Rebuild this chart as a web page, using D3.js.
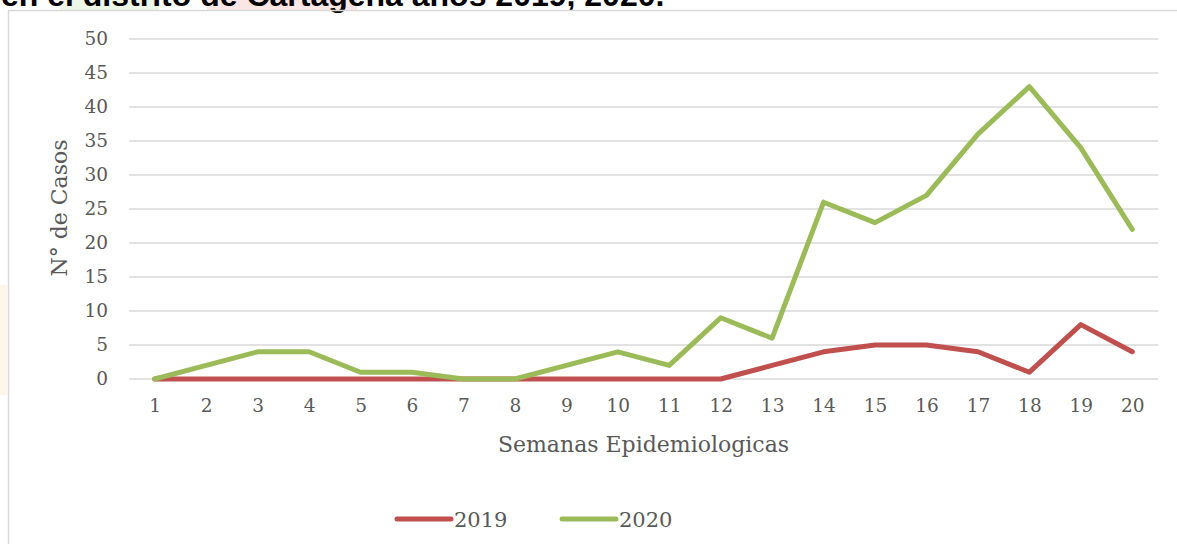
<!DOCTYPE html>
<html>
<head>
<meta charset="utf-8">
<script src="https://cdn.jsdelivr.net/npm/d3@7"></script>
<style>
  html, body { margin: 0; padding: 0; background: #fff; }
  svg { display: block; }
</style>
</head>
<body>
<svg id="chart" width="1177" height="544"></svg>
<script>
// data
const weeks = d3.range(1, 21)
const cases2019 = [0, 0, 0, 0, 0, 0, 0, 0, 0, 0, 0, 0, 2, 4, 5, 5, 4, 1, 8, 4]
const cases2020 = [0, 2, 4, 4, 1, 1, 0, 0, 2, 4, 2, 9, 6, 26, 23, 27, 36, 43, 34, 22]
const yTicks = [0, 5, 10, 15, 20, 25, 30, 35, 40, 45, 50]
const seriesNames = ['2019', '2020']
const seriesColors = ['#c0504d', '#9bbb59']

const width = 1177
const height = 544
const margin = { top: 39, right: 19, bottom: 165, left: 129 }
const serif = "'DejaVu Serif', 'Liberation Serif', serif"
const textColor = '#595959'
const gridColor = '#d9d9d9'

const svg = d3.select('#chart')

// bits of the page around the chart: cut title and the frame
svg.append('rect')
    .attr('x', 0).attr('y', 285).attr('width', 7).attr('height', 110)
    .attr('fill', '#fff6ea')
svg.append('rect')
    .attr('x', 60).attr('y', 0).attr('width', 99).attr('height', 10)
    .attr('fill', '#eef6e8')
svg.append('rect')
    .attr('x', 207).attr('y', 0).attr('width', 150).attr('height', 10)
    .attr('fill', '#fbe6e6')
svg.append('text')
    .attr('x', 1).attr('y', 6)
    .style('font-family', 'Arial, "Liberation Sans", sans-serif')
    .style('font-weight', 'bold')
    .style('font-size', '32px')
    .style('fill', '#000')
    .text('en el distrito de Cartagena años 2019, 2020.')

svg.append('path')
    .attr('d', `M8.5,${height}V10.5H${width}`)
    .attr('fill', 'none')
    .attr('stroke', gridColor)
    .attr('stroke-width', 1.5)

const x = d3.scalePoint()
    .domain(weeks)
    .range([margin.left, width - margin.right])
    .padding(0.5)

const y = d3.scaleLinear()
    .domain([0, 50])
    .range([height - margin.bottom, margin.top])

// gridlines
svg.append('g')
    .selectAll('line')
    .data(yTicks)
    .join('line')
    .attr('x1', margin.left)
    .attr('x2', width - margin.right)
    .attr('y1', d => y(d))
    .attr('y2', d => y(d))
    .attr('stroke', gridColor)
    .attr('stroke-width', 1.5)

// y axis
const yAxis = svg.append('g')
    .attr('transform', `translate(${margin.left - 21}, 0)`)
    .call(d3.axisLeft(y).tickValues(yTicks).tickSize(0).tickPadding(0))
yAxis.select('.domain').remove()
yAxis.selectAll('text')
    .style('font-family', serif)
    .style('font-size', '18.5px')
    .style('fill', textColor)

// x axis
const xAxis = svg.append('g')
    .attr('transform', `translate(0, ${y(0) + 20})`)
    .call(d3.axisBottom(x).tickSize(0).tickPadding(0))
xAxis.select('.domain').remove()
xAxis.selectAll('text')
    .style('font-family', serif)
    .style('font-size', '18.5px')
    .style('fill', textColor)

// axis titles
svg.append('text')
    .attr('x', (margin.left + width - margin.right) / 2)
    .attr('y', 452)
    .attr('text-anchor', 'middle')
    .style('font-family', serif)
    .style('font-size', '22px')
    .style('fill', textColor)
    .text('Semanas Epidemiologicas')

svg.append('text')
    .attr('transform', `translate(67, ${(y(0) + y(50)) / 2 - 1}) rotate(-90)`)
    .attr('text-anchor', 'middle')
    .style('font-family', serif)
    .style('font-size', '22px')
    .style('fill', textColor)
    .text('N° de Casos')

// lines
const line = d3.line()
    .x((d, i) => x(weeks[i]))
    .y(d => y(d))

svg.append('g')
    .selectAll('path')
    .data([cases2019, cases2020])
    .join('path')
    .attr('d', line)
    .attr('fill', 'none')
    .attr('stroke', (d, i) => seriesColors[i])
    .attr('stroke-width', 5)
    .attr('stroke-linejoin', 'round')
    .attr('stroke-linecap', 'round')

// legend
const legend = svg.append('g')
    .attr('transform', 'translate(397, 519)')
const item = legend.selectAll('g')
    .data(seriesNames)
    .join('g')
    .attr('transform', (d, i) => `translate(${i * 165}, 0)`)
item.append('line')
    .attr('x1', 0).attr('x2', 54)
    .attr('stroke', (d, i) => seriesColors[i])
    .attr('stroke-width', 5)
    .attr('stroke-linecap', 'round')
item.append('text')
    .attr('x', 57)
    .attr('y', 8)
    .style('font-family', serif)
    .style('font-size', '21px')
    .style('fill', textColor)
    .text(d => d)
</script>
</body>
</html>
